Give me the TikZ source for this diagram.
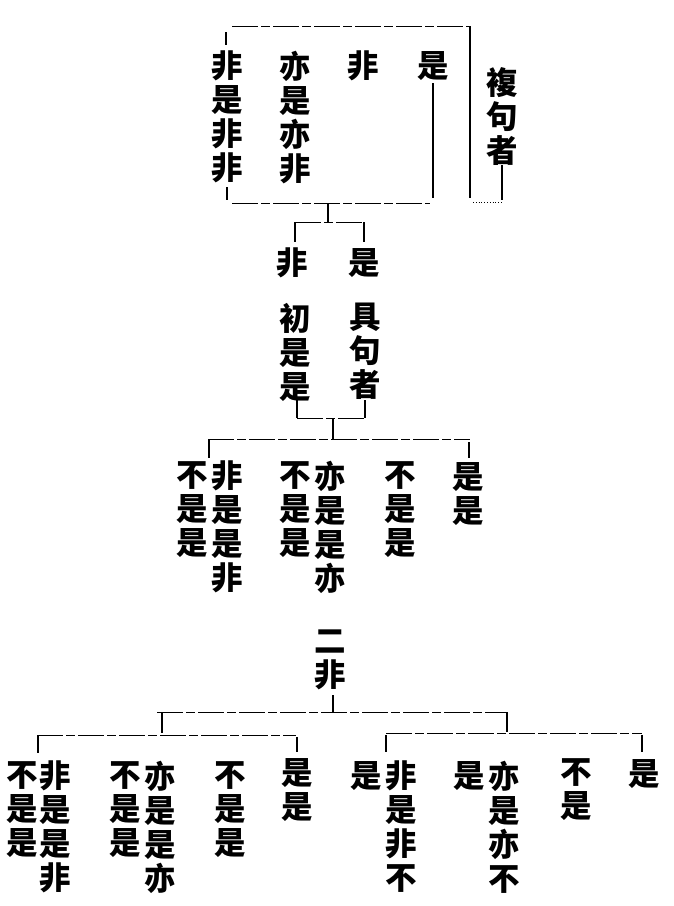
\documentclass[tikz,border=0pt]{standalone}
\usepackage{fontspec}
\newfontfamily\cjk{Noto Sans CJK TC}
\tikzset{
  cjkcol/.style={font=\cjk\bfseries\fontsize{31.5}{34}\selectfont, align=center, inner sep=0pt, anchor=north},
  hline/.style={line width=0.9pt, dash pattern=on 26pt off 3pt on 9pt off 3pt},
  vline/.style={line width=1.4pt},
}
\begin{document}
\begin{tikzpicture}[x=1pt,y=-1pt]
\useasboundingbox (0,0) rectangle (674,906);
% ---------- top block ----------
\node[cjkcol] (c1) at (227,51) {非\\是\\非\\非};
\node[cjkcol] (c2) at (295,51) {亦\\是\\亦\\非};
\node[cjkcol] (c3) at (363,51) {非};
\node[cjkcol] (c4) at (433,51) {是};
\node[cjkcol] (c5) at (502,67) {複\\句\\者};
\coordinate (tl) at (232,26);
\coordinate (tr) at (470,26);
\draw[hline] (tl) -- (tr);
\draw[vline] (tr) -- (470,198);
\draw[vline] (226,32) -- (226,45);
\draw[vline] (227,187) -- (227,200);
\draw[hline] (232,203) -- (430,203);
\draw[vline] (c4.south) ++(0,3) -- (433,198);
\draw[vline] (502,165) -- (502,200);
\draw[line width=0.8pt, dotted] (473,202) -- (502,202);
% ---------- second level ----------
\coordinate (j1) at (328,222);
\draw[vline] (328,203) -- (j1);
\draw[hline] (295,222) -- (364,222);
\draw[vline] (295,222) -- (295,242);
\draw[vline] (364,222) -- (364,242);
\node[cjkcol] (d1) at (292,248) {非};
\node[cjkcol] (d2) at (364,248) {是};
\node[cjkcol] (d3) at (295,303) {初\\是\\是};
\node[cjkcol] (d4) at (365,303) {具\\句\\者};
\draw[vline] (297,398) -- (297,418);
\draw[vline] (365,400) -- (365,418);
\draw[hline] (297,418) -- (365,418);
\coordinate (j2) at (333,439);
\draw[vline] (333,418) -- (j2);
\draw[hline] (208,439) -- (470,439);
\draw[vline] (209,439) -- (209,458);
\draw[vline] (469,442) -- (469,458);
% ---------- third level ----------
\node[cjkcol] (e1) at (192,461) {不\\是\\是};
\node[cjkcol] (e2) at (227,461) {非\\是\\是\\非};
\node[cjkcol] (e3) at (295,461) {不\\是\\是};
\node[cjkcol] (e4) at (330,461) {亦\\是\\是\\亦};
\node[cjkcol] (e5) at (400,461) {不\\是\\是};
\node[cjkcol] (e6) at (468,462) {是\\是};
% ---------- bottom block ----------
\node[cjkcol] (f0) at (330,630) {二\\非};
\draw[vline] (333,695) -- (333,712);
\draw[hline] (157,712) -- (506,712);
\draw[vline] (162,712) -- (162,733);
\draw[vline] (507,712) -- (507,732);
\draw[hline] (37,735) -- (296,735);
\draw[vline] (38,735) -- (38,753);
\draw[vline] (297,737) -- (297,752);
\draw[hline] (386,733) -- (642,733);
\draw[vline] (386,735) -- (386,752);
\draw[vline] (642,735) -- (642,752);
\node[cjkcol] (g1) at (22,761) {不\\是\\是};
\node[cjkcol] (g2) at (55,761) {非\\是\\是\\非};
\node[cjkcol] (g3) at (125,761) {不\\是\\是};
\node[cjkcol] (g4) at (160,761) {亦\\是\\是\\亦};
\node[cjkcol] (g5) at (230,761) {不\\是\\是};
\node[cjkcol] (g6) at (297,758) {是\\是};
\node[cjkcol] (g7) at (366,761) {是};
\node[cjkcol] (g8) at (401,761) {非\\是\\非\\不};
\node[cjkcol] (g9) at (469,761) {是};
\node[cjkcol] (g10) at (504,761) {亦\\是\\亦\\不};
\node[cjkcol] (g11) at (576,758) {不\\是};
\node[cjkcol] (g12) at (644,759) {是};
\end{tikzpicture}
\end{document}
